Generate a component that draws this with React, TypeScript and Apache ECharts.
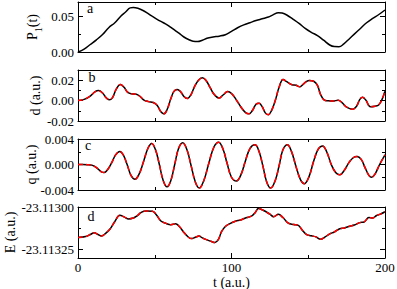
import React, { useEffect, useRef } from 'react';
import * as echarts from 'echarts';

// time axis
const X_MIN = 0;
const X_MAX = 200;
const X_INTERVAL = 100;

// panel a: P1(t)
const panelA: [number, number][] = [
  [0, 0.0], [4, 0.004], [8, 0.0105], [12, 0.017], [16, 0.0245], [20, 0.034], [24, 0.041],
  [28, 0.0505], [31, 0.056], [34, 0.0618], [36, 0.0622], [39, 0.0612], [42, 0.0585],
  [45, 0.0548], [48, 0.0505], [51, 0.0465], [54, 0.0428], [57, 0.0395], [60, 0.0352],
  [63, 0.0305], [66, 0.026], [69, 0.021], [72, 0.0175], [75, 0.015], [78, 0.0146],
  [81, 0.0165], [84, 0.0192], [88, 0.021], [92, 0.0222], [96, 0.0242], [100, 0.029],
  [104, 0.034], [108, 0.038], [112, 0.041], [116, 0.044], [120, 0.0465], [124, 0.049],
  [127, 0.052], [130.5, 0.055], [133, 0.0545], [136, 0.0518], [140, 0.046], [144, 0.04],
  [148, 0.033], [152, 0.0275], [156, 0.023], [160, 0.0165], [164, 0.0098], [167, 0.0076],
  [170, 0.0074], [173, 0.011], [177, 0.019], [180, 0.025], [184, 0.033], [188, 0.041],
  [192, 0.047], [196, 0.0525], [200, 0.0588],
];
const A_MAJOR = [0, 0.05];
const A_MINOR = [0.025];

// panel b: d (a.u.)
const panelB: [number, number][] = [
  [0, 0.0], [4, 0.0012], [8, 0.0045], [11, 0.0085], [13.4, 0.0098], [16, 0.0075],
  [18.5, 0.0025], [20.3, 0.0008], [22.5, 0.003], [25, 0.0115], [27.6, 0.0157], [30, 0.013],
  [32.5, 0.008], [35, 0.0066], [38, 0.0062], [40.5, 0.004], [43, 0.0005], [46, -0.001],
  [49, -0.0018], [51.5, -0.0045], [54, -0.011], [56, -0.013], [58, -0.009], [60.5, 0.002],
  [62.5, 0.009], [64.6, 0.011], [67, 0.0085], [69, 0.004], [71.2, 0.002], [73.5, 0.0055],
  [76, 0.014], [78.5, 0.02], [81, 0.0225], [83.5, 0.0195], [86, 0.013], [88.5, 0.0065],
  [91.8, 0.0025], [94.5, 0.0055], [97.5, 0.0088], [100, 0.007], [103, 0.001], [106, -0.006],
  [109, -0.0115], [111.3, -0.013], [113.5, -0.01], [116, -0.0035], [118, -0.0025],
  [120, -0.006], [122, -0.012], [124, -0.0138], [126, -0.01], [128.5, 0.0], [131, 0.013],
  [133.6, 0.0208], [136, 0.0185], [139.5, 0.0155], [142, 0.015], [144.5, 0.0135],
  [147, 0.0165], [150.5, 0.0198], [153.5, 0.019], [156, 0.015], [158, 0.006],
  [160.5, 0.0005], [163, -0.0002], [166, -0.0005], [169.5, 0.0004], [172, -0.002],
  [175, -0.0065], [178.8, -0.0085], [181.5, -0.0055], [183.5, 0.001], [185.3, 0.0033],
  [187.5, 0.0005], [190.5, -0.006], [193.5, -0.0055], [196, -0.004], [198, 0.001],
  [200, 0.0092],
];
const B_MAJOR = [-0.02, 0, 0.02];
const B_MINOR = [-0.01, 0.01];

// panel c: q (a.u.)
const panelC: [number, number][] = [
  [0, 0], [3, 0], [6, -0.00002], [9, -0.0001], [12, -0.0005], [15, -0.0011], [17, -0.00125],
  [19, -0.0009], [22, 0.0003], [24.5, 0.0015], [27.2, 0.00205], [29.5, 0.0015], [32, 0.0],
  [34.5, -0.0017], [37.2, -0.0023], [40, -0.0014], [42.5, 0.0003], [45.5, 0.0025],
  [48, 0.0033], [50.5, 0.0023], [53, 0.0], [55.5, -0.0025], [58, -0.0035], [60.5, -0.0025],
  [63, 0.0], [65.5, 0.0025], [68.2, 0.0034], [71, 0.0023], [73.5, 0.0], [76.5, -0.0028],
  [79, -0.0037], [82, -0.0025], [85, 0.0], [88.5, 0.0027], [91.6, 0.0035], [94.5, 0.0024],
  [97, 0.0003], [100, -0.002], [103.2, -0.0026], [106, -0.0017], [109, 0.0005],
  [112, 0.0025], [115.3, 0.0031], [118, 0.002], [120.5, -0.0003], [123, -0.0028],
  [125.5, -0.0037], [128.5, -0.0025], [131, -0.0002], [133.5, 0.0023], [136.4, 0.0031],
  [139, 0.0021], [142, -0.0003], [145, -0.0024], [147.5, -0.003], [150.5, -0.0019],
  [153.5, 0.0005], [156.5, 0.0024], [159.3, 0.0029], [162, 0.002], [165, 0.0],
  [168, -0.0013], [170.6, -0.0016], [173.5, -0.0009], [176.5, 0.0003], [179.5, 0.0011],
  [181.8, 0.00125], [184.5, 0.0008], [187, -0.0005], [189.5, -0.0017], [191.3, -0.002],
  [193.5, -0.0015], [196.5, 0.0], [200, 0.0015],
];
const C_MAJOR = [-0.004, 0, 0.004];
const C_MINOR = [-0.002, 0.002];

// panel d: E (a.u.)
const panelD: [number, number][] = [
  [0, -23.11318], [5, -23.113174], [8, -23.113162], [10.5, -23.113152], [13, -23.113162],
  [15.3, -23.11317], [18, -23.113155], [21, -23.113128], [24, -23.113085], [27.3, -23.113048],
  [30, -23.113058], [33, -23.11307], [36, -23.113065], [38.5, -23.113052], [41.5, -23.11303],
  [44.5, -23.113024], [48.5, -23.113025], [51, -23.113045], [54, -23.113082], [57, -23.113095],
  [60.5, -23.113104], [63.5, -23.113099], [66, -23.113115], [69, -23.11315], [72, -23.113178],
  [74, -23.113186], [76.5, -23.113178], [78.8, -23.113171], [81, -23.113182], [84, -23.113193],
  [87, -23.113203], [89.2, -23.113209], [91.5, -23.11319], [93.5, -23.113145], [96, -23.113115],
  [99, -23.113098], [102.5, -23.113084], [106, -23.113076], [109.5, -23.113063], [113, -23.113054],
  [115.5, -23.113032], [117.5, -23.113009], [120, -23.113016], [122.5, -23.113028],
  [125, -23.113042], [127.5, -23.113057], [130.5, -23.113043], [133.5, -23.113062],
  [137, -23.113095], [140.5, -23.113103], [143.5, -23.113108], [146, -23.113135],
  [149, -23.113162], [152, -23.113169], [155, -23.113176], [158, -23.11319], [161, -23.113176],
  [164, -23.113158], [167, -23.113147], [170.5, -23.113128], [173.5, -23.113123],
  [177, -23.113113], [180, -23.113106], [183.5, -23.113092], [186.5, -23.113087],
  [189.5, -23.113062], [192, -23.113065], [194.5, -23.11305], [197, -23.113042], [200, -23.113028],
];
const D_MAJOR = [-23.11325, -23.113];
const D_MINOR = [-23.113125];

const FONT = "'Liberation Serif', 'Times New Roman', serif";

const GRIDS = [
  { top: 2, height: 50 },
  { top: 70, height: 51 },
  { top: 139, height: 51 },
  { top: 207, height: 51 },
];

function xAxesFor(grid: number, showLabels: boolean): any[] {
  const base = {
    type: 'value',
    gridIndex: grid,
    min: X_MIN,
    max: X_MAX,
    interval: X_INTERVAL,
    splitLine: { show: false },
    axisLine: { show: true, onZero: false, lineStyle: { color: '#000', width: 1 } },
    axisTick: { show: true, inside: true, length: 5, lineStyle: { color: '#000', width: 1 } },
    minorTick: { show: true, splitNumber: 2, length: 3, lineStyle: { color: '#000', width: 1 } },
  };
  return [
    {
      ...base,
      position: 'bottom',
      axisLabel: showLabels
        ? { show: true, margin: 3, color: '#000', fontFamily: FONT, fontSize: 13 }
        : { show: false },
      name: showLabels ? 't (a.u.)' : '',
      nameLocation: 'middle',
      nameGap: 17,
      nameMoveOverlap: false,
      nameTextStyle: { color: '#000', fontFamily: FONT, fontSize: 14 },
    },
    { ...base, position: 'top', axisLabel: { show: false } },
  ];
}

function yAxesFor(
  grid: number,
  min: number,
  max: number,
  major: number[],
  minor: number[],
  digits: number,
  name: string,
  nameGap: number,
  nameTextStyle: any
): any[] {
  const common = {
    type: 'value',
    gridIndex: grid,
    min,
    max,
    splitLine: { show: false },
    minorTick: { show: false },
  };
  const majorAx = (pos: string, labels: boolean) => ({
    ...common,
    position: pos,
    axisLine: { show: true, onZero: false, lineStyle: { color: '#000', width: 1 } },
    axisTick: {
      show: true,
      inside: true,
      length: 5,
      customValues: major,
      lineStyle: { color: '#000', width: 1 },
    },
    axisLabel: labels
      ? {
          show: true,
          customValues: major,
          formatter: (v: number) => Number(v).toFixed(digits),
          margin: 4,
          color: '#000',
          fontFamily: FONT,
          fontSize: 13,
        }
      : { show: false },
    name: labels ? name : '',
    nameLocation: 'middle',
    nameRotate: 90,
    nameGap,
    nameMoveOverlap: false,
    nameTextStyle,
  });
  const minorAx = (pos: string) => ({
    ...common,
    position: pos,
    axisLine: { show: false, onZero: false },
    axisTick: {
      show: true,
      inside: true,
      length: 3,
      customValues: minor,
      lineStyle: { color: '#000', width: 1 },
    },
    axisLabel: { show: false },
  });
  return [majorAx('left', true), minorAx('left'), majorAx('right', false), minorAx('right')];
}

const nameStyle = { color: '#000', fontFamily: FONT, fontSize: 14 };

export default function App() {
  const ref = useRef<HTMLDivElement>(null);
  useEffect(() => {
    if (!ref.current) return;
    const chart = echarts.init(ref.current, undefined, { renderer: 'svg' });

    const xAxis = [
      ...xAxesFor(0, false),
      ...xAxesFor(1, false),
      ...xAxesFor(2, false),
      ...xAxesFor(3, true),
    ];
    const yAxis = [
      ...yAxesFor(0, 0, 0.07, A_MAJOR, A_MINOR, 2, '{n|P}{s|1}{n|(t)}', 35, {
        ...nameStyle,
        rich: {
          n: { fontFamily: FONT, fontSize: 14, color: '#000', verticalAlign: 'bottom', padding: [0, 0, 4, 0] },
          s: { fontFamily: FONT, fontSize: 10, color: '#000', verticalAlign: 'bottom' },
        },
      }),
      ...yAxesFor(1, -0.02, 0.03, B_MAJOR, B_MINOR, 2, 'd (a.u.)', 36, nameStyle),
      ...yAxesFor(2, -0.004, 0.004, C_MAJOR, C_MINOR, 3, 'q (a.u.)', 40, nameStyle),
      ...yAxesFor(3, -23.1133, -23.113, D_MAJOR, D_MINOR, 5, 'E (a.u.)', 61, nameStyle),
    ];

    const black = (data: [number, number][], g: number) => ({
      type: 'line',
      xAxisIndex: g * 2,
      yAxisIndex: g * 4,
      data,
      showSymbol: false,
      symbol: 'none',
      smooth: 0.4,
      lineStyle: { color: '#000', width: 1.5 },
      z: 3,
    });
    const red = (data: [number, number][], g: number) => ({
      type: 'line',
      xAxisIndex: g * 2,
      yAxisIndex: g * 4,
      data,
      showSymbol: false,
      symbol: 'none',
      smooth: 0.4,
      lineStyle: { color: '#ff0000', width: 1.5, type: [5, 3] },
      z: 4,
    });

    const letters = [
      { t: 'a', x: 87, y: 8 },
      { t: 'b', x: 88.5, y: 77.3 },
      { t: 'c', x: 85, y: 145.3 },
      { t: 'd', x: 87.5, y: 216 },
    ];

    chart.setOption({
      animation: false,
      textStyle: { fontFamily: FONT },
      grid: GRIDS.map((g) => ({
        left: 78,
        right: 12,
        top: g.top,
        height: g.height,
        containLabel: false,
        outerBoundsMode: 'none',
      })),
      xAxis,
      yAxis,
      series: [
        black(panelA, 0),
        black(panelB, 1),
        red(panelB, 1),
        black(panelC, 2),
        red(panelC, 2),
        black(panelD, 3),
        red(panelD, 3),
      ],
      graphic: letters.map((l) => ({
        type: 'text',
        x: l.x,
        y: l.y,
        z: 10,
        style: {
          text: l.t,
          fontFamily: FONT,
          fontSize: 14,
          fill: '#000',
          align: 'left',
          verticalAlign: 'middle',
        },
      })),
    });
    return () => chart.dispose();
  }, []);
  return (
    <div
      ref={ref}
      style={{ position: 'absolute', left: 0, top: 0, width: 397, height: 289, background: '#fff' }}
    />
  );
}
